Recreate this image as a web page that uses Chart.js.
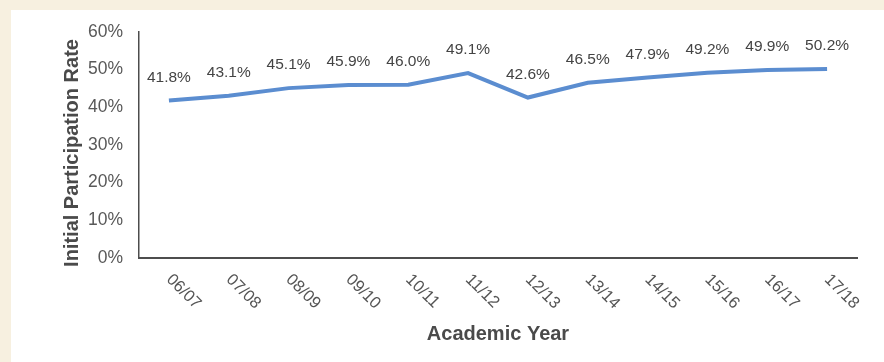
<!DOCTYPE html>
<html lang="en">
<head>
  <meta charset="UTF-8">
  <title>Initial Participation Rate</title>
  <style>
    body { margin: 0; background: #f7f0e0; width: 884px; height: 362px; overflow: hidden; }
    .panel { position: absolute; left: 11px; top: 10px; width: 873px; height: 352px; background: #fff; }
    #chart { position: absolute; left: 0; top: 0; }
  </style>
  <script src="https://cdn.jsdelivr.net/npm/chart.js"></script>
</head>
<body>
<div class="panel"></div>
<canvas id="chart" width="884" height="362"></canvas>

<script>
const years = ["06/07", "07/08", "08/09", "09/10", "10/11", "11/12", "12/13", "13/14", "14/15", "15/16", "16/17", "17/18"];
const rates = [41.8, 43.1, 45.1, 45.9, 46.0, 49.1, 42.6, 46.5, 47.9, 49.2, 49.9, 50.2];
const yTicks = [0, 10, 20, 30, 40, 50, 60];

const FONT = '"Liberation Sans", Arial, sans-serif';

// value labels, rotated x labels and y title
const extras = {
  id: 'extras',
  afterDatasetsDraw(chart) {
    const ctx = chart.ctx;
    const meta = chart.getDatasetMeta(0);
    ctx.save();
    ctx.font = '15.5px ' + FONT;
    ctx.fillStyle = '#444';
    ctx.textAlign = 'center';
    ctx.textBaseline = 'middle';
    meta.data.forEach((pt, i) => {
      ctx.fillText(rates[i].toFixed(1) + '%', pt.x, pt.y - 23);
    });
    ctx.restore();
  },
  afterDraw(chart) {
    const ctx = chart.ctx;
    const xs = chart.scales.x;
    const area = chart.chartArea;
    ctx.save();
    ctx.font = '16.5px ' + FONT;
    ctx.fillStyle = '#555';
    ctx.textAlign = 'left';
    ctx.textBaseline = 'middle';
    years.forEach((lab, i) => {
      ctx.save();
      ctx.translate(xs.getPixelForTick(i), area.bottom + 19);
      ctx.rotate(Math.PI / 4);
      ctx.fillText(lab, 0, 0);
      ctx.restore();
    });
    // y title
    ctx.font = 'bold 20px ' + FONT;
    ctx.fillStyle = '#4a4a4a';
    ctx.textAlign = 'center';
    ctx.translate(72, 153);
    ctx.rotate(-Math.PI / 2);
    ctx.fillText('Initial Participation Rate', 0, 0);
    ctx.restore();
  }
};

new Chart(document.getElementById('chart'), {
  type: 'line',
  data: {
    labels: years,
    datasets: [{
      data: rates,
      borderColor: '#5b8dd0',
      borderWidth: 4,
      pointRadius: 0,
      tension: 0,
      fill: false
    }]
  },
  options: {
    responsive: false,
    animation: false,
    layout: { padding: { left: 0, right: 27, top: 32, bottom: 0 } },
    plugins: { legend: { display: false }, tooltip: { enabled: false } },
    scales: {
      x: {
        offset: true,
        grid: { display: false, drawTicks: false },
        border: { display: true, color: '#4d4d4d', width: 2 },
        ticks: { display: false },
        title: {
          display: true,
          text: 'Academic Year',
          color: '#4a4a4a',
          font: { family: FONT, size: 20, weight: 'bold' },
          padding: { top: 0, bottom: 15.5 }
        },
        afterFit: s => { s.height = 104; }
      },
      y: {
        min: 0,
        max: 60,
        afterBuildTicks: s => { s.ticks = yTicks.map(v => ({ value: v })); },
        grid: { display: false, drawTicks: false },
        border: { display: true, color: '#4d4d4d', width: 1.5 },
        ticks: {
          padding: 16,
          color: '#595959',
          font: { family: FONT, size: 17.5 },
          callback: v => v + '%'
        },
        afterFit: s => { s.width = 139; }
      }
    }
  },
  plugins: [extras]
});
</script>
</body>
</html>
